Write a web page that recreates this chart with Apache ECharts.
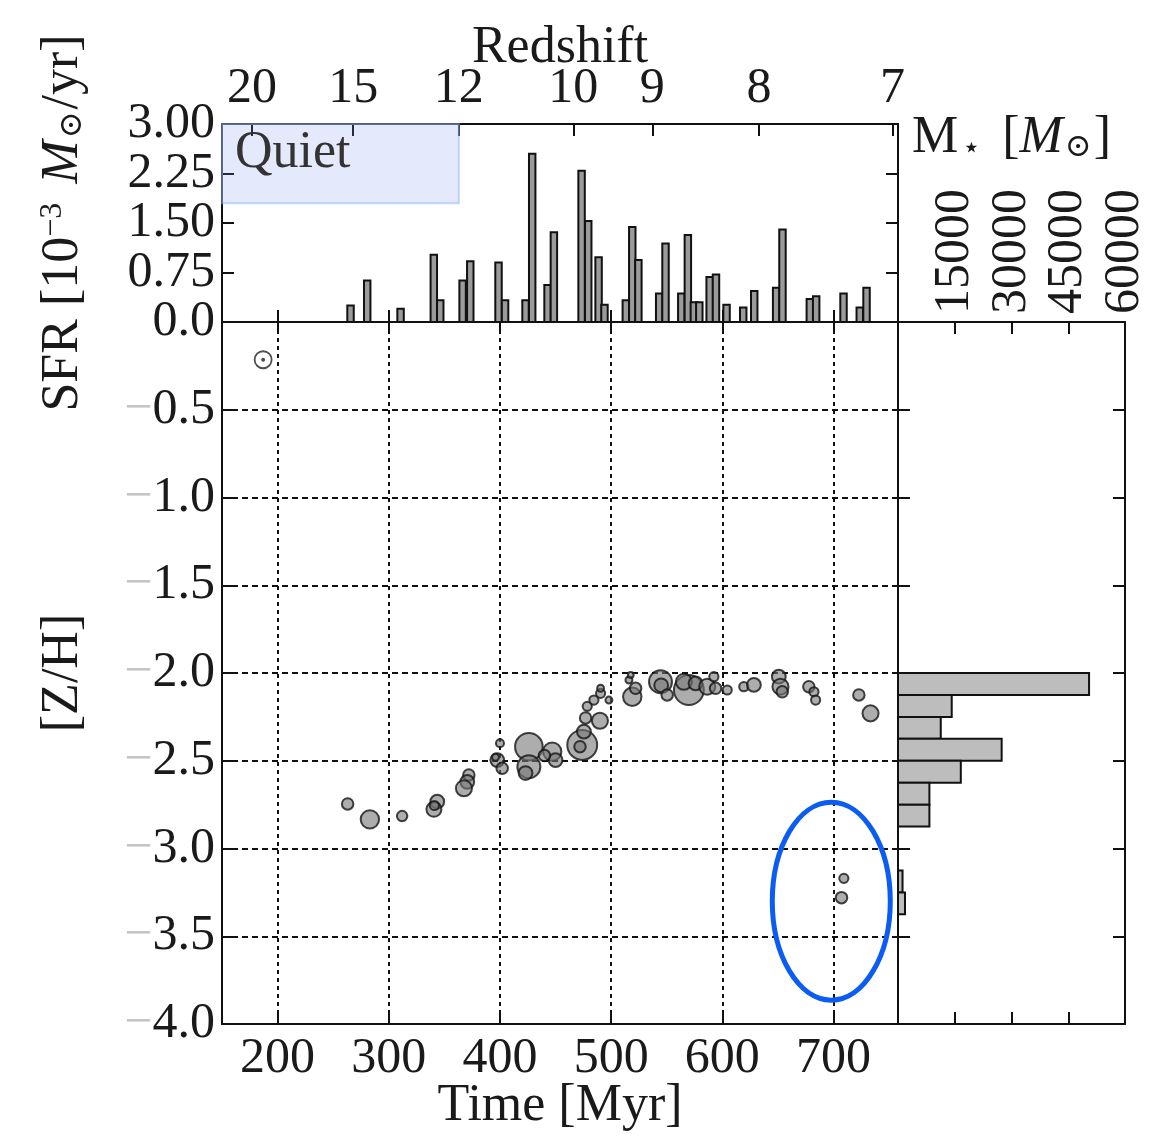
<!DOCTYPE html>
<html>
<head>
<meta charset="utf-8">
<script src="https://cdn.jsdelivr.net/npm/echarts@6/dist/echarts.min.js"></script>
<style>
html, body { margin: 0; padding: 0; background: #fff; }
#chart { width: 1163px; height: 1136px; }
</style>
</head>
<body>
<div id="chart"></div>
<script>
const FONT = '"Liberation Serif", "DejaVu Serif", serif';

// Cosmic time axis [Myr]
const timeRange = [150, 758];

// Redshift ticks on the upper axis and the cosmic time they fall at [Myr]
const redshiftLabels = ['20', '15', '12', '10', '9', '8', '7'];
const redshiftTimes = [177, 268, 363, 466, 537, 633, 753];

// SFR tick labels [1e-3 Msun/yr], split in two sets so none are dropped
const sfrTicksA = [1.5, 3.0];
const sfrTicksB = [0.75, 2.25];

// Star formation history: bin centres [Myr] and SFR [1e-3 Msun/yr]
const sfrTimes = [265.6, 280.6, 310.6, 340.5, 346.3, 366.4, 373.3, 398.7, 404.6, 423.0,
  429.0, 442.8, 448.5, 473.4, 479.4, 488.7, 494.0, 513.2, 519.0, 524.5,
  543.2, 548.9, 563.1, 569.0, 574.4, 579.3, 588.6, 594.3, 603.8, 618.8,
  628.7, 648.4, 654.1, 678.7, 684.4, 709.0, 723.6, 729.7];
const sfrValues = [0.25, 0.63, 0.20, 1.02, 0.33, 0.63, 0.92, 0.90, 0.33, 0.33,
  2.55, 0.56, 1.36, 2.29, 1.53, 0.98, 0.26, 0.33, 1.44, 0.94,
  0.43, 1.19, 0.43, 1.32, 0.30, 0.30, 0.68, 0.72, 0.26, 0.22,
  0.47, 0.52, 1.40, 0.35, 0.39, 0.43, 0.22, 0.52];
const sfrBinWidth = 5.8;

// Star particles: formation time [Myr], metallicity [Z/H], stellar mass [Msun]
const starTimes = [263, 283, 312, 343.6, 340.6, 341, 372, 370.6, 367.6, 400,
  397.6, 402, 396, 426, 426, 423, 447, 450, 440, 474,
  472, 475.5, 489.9, 477, 478.5, 484.5, 490.5, 490.5, 498, 519,
  522, 516, 517.6, 544.4, 545, 550.4, 569.9, 565.4, 575.9, 586.4,
  592.4, 593.9, 604.4, 619.3, 628.4, 650.8, 652.3, 653.9, 677.8, 682.4,
  683.9, 722.8, 733.3, 709.3, 707.2];
const starZH = [-2.746, -2.834, -2.815, -2.733, -2.777, -2.755, -2.581, -2.62, -2.657, -2.40,
  -2.496, -2.543, -2.48, -2.42, -2.534, -2.57, -2.448, -2.496, -2.47, -2.41,
  -2.42, -2.334, -2.272, -2.256, -2.19, -2.154, -2.116, -2.087, -2.154, -2.135,
  -2.087, -2.04, -2.011, -2.05, -2.07, -2.125, -2.097, -2.05, -2.059, -2.078,
  -2.021, -2.087, -2.097, -2.078, -2.068, -2.021, -2.078, -2.107, -2.078, -2.107,
  -2.154, -2.125, -2.23, -3.17, -3.28];
const starMass = [1500, 3840, 1220, 2160, 2540, 960, 1500, 2160, 2940, 740,
  2160, 1500, 540, 8640, 6000, 2160, 3840, 2160, 1500, 10140,
  1500, 2160, 2940, 1500, 960, 960, 960, 540, 540, 3840,
  1500, 540, 380, 6000, 2160, 1500, 10140, 2940, 2160, 2940,
  960, 1500, 960, 960, 2160, 2160, 2940, 1500, 1500, 960,
  960, 1500, 2940, 960, 1500];

// Stellar mass per metallicity bin: upper bin edge [Z/H] and mass [Msun]
const zhBinTop = [-2.0, -2.125, -2.25, -2.375, -2.5, -2.625, -2.75, -3.125, -3.25];
const zhBinMass = [50500, 14200, 11300, 27400, 16600, 8300, 8300, 1200, 1850];
const zhBinWidth = 0.125;

// Quiet period before z = 12
const quietPeriod = [150, 363];
const quietBand = [1.8, 3.0];

// Reference marker in the upper-left corner
const refMarker = [187, -0.215];

// Highlighted late, metal-poor stars
const highlightCentre = [698, -3.3];

const BLACK = '#111';
const tickStyle = { show: true, inside: true, length: 12, lineStyle: { color: BLACK, width: 2 } };
const lineStyle = { show: true, onZero: false, lineStyle: { color: BLACK, width: 2 } };
const noLabel = { show: false };
const labelFont = { fontFamily: FONT, fontSize: 50, color: '#1a1a1a' };
const nameFont = { fontFamily: FONT, fontSize: 52, color: '#1a1a1a' };

function massToDiameter(m) {
  return 2.3 * Math.sqrt(m / 60);
}

const chart = echarts.init(document.getElementById('chart'), null, { renderer: 'canvas' });

const gridBase = { containLabel: false, outerBoundsMode: 'none' };

const option = {
  backgroundColor: '#fff',
  animation: false,
  grid: [
    Object.assign({ left: 222, top: 124, width: 676, height: 198 }, gridBase),
    Object.assign({ left: 222, top: 322, width: 676, height: 702 }, gridBase),
    Object.assign({ left: 898, top: 322, width: 227, height: 702 }, gridBase)
  ],
  xAxis: [
    { // SFR panel, bottom
      type: 'value', gridIndex: 0, position: 'bottom', min: timeRange[0], max: timeRange[1],
      axisLine: lineStyle, axisTick: tickStyle, axisLabel: noLabel, splitLine: { show: false }
    },
    { // SFR panel, top: redshift
      type: 'value', gridIndex: 0, position: 'top', min: timeRange[0], max: timeRange[1],
      axisLine: lineStyle,
      axisTick: Object.assign({}, tickStyle, { customValues: redshiftTimes }),
      axisLabel: Object.assign({}, labelFont, {
        customValues: redshiftTimes, margin: 10, hideOverlap: false,
        formatter: v => redshiftLabels[redshiftTimes.indexOf(v)]
      }),
      splitLine: { show: false },
      name: 'Redshift', nameLocation: 'middle', nameGap: 50, nameMoveOverlap: false,
      nameTextStyle: nameFont
    },
    { // metallicity panel, bottom: time
      type: 'value', gridIndex: 1, position: 'bottom', min: timeRange[0], max: timeRange[1],
      axisLine: lineStyle, axisTick: tickStyle,
      axisLabel: Object.assign({}, labelFont, { margin: 10, showMinLabel: false, showMaxLabel: false }),
      splitLine: { show: true, showMinLine: false, showMaxLine: false,
        lineStyle: { color: BLACK, width: 2, type: [4, 4] } },
      name: 'Time [Myr]', nameLocation: 'middle', nameGap: 56, nameMoveOverlap: false,
      nameTextStyle: nameFont
    },
    { // metallicity panel, top
      type: 'value', gridIndex: 1, position: 'top', min: timeRange[0], max: timeRange[1],
      axisLine: lineStyle, axisTick: tickStyle, axisLabel: noLabel, splitLine: { show: false }
    },
    { // mass histogram, top
      type: 'value', gridIndex: 2, position: 'top', min: 0, max: 60000, interval: 15000,
      axisLine: lineStyle, axisTick: tickStyle,
      axisLabel: Object.assign({}, labelFont, {
        rotate: -90, margin: 8, showMinLabel: false, showMaxLabel: true, hideOverlap: false,
        formatter: v => String(v)
      }),
      splitLine: { show: false },
      name: 'M{sub|\u22c6} [{it|M}{sub2|\u2299}]', nameLocation: 'middle', nameGap: 158,
      nameTextStyle: Object.assign({}, nameFont, {
        rich: {
          sub: { fontFamily: FONT, fontSize: 30, verticalAlign: 'bottom', color: '#1a1a1a', padding: [0, 8, 0, 4] },
          sub2: { fontFamily: FONT, fontSize: 32, verticalAlign: 'bottom', color: '#1a1a1a', padding: [0, 2, 0, 2] },
          it: { fontFamily: FONT, fontSize: 52, fontStyle: 'italic', color: '#1a1a1a' }
        }
      })
    },
    { // mass histogram, bottom
      type: 'value', gridIndex: 2, position: 'bottom', min: 0, max: 60000, interval: 15000,
      axisLine: lineStyle, axisTick: tickStyle, axisLabel: noLabel, splitLine: { show: false }
    }
  ],
  yAxis: [
    { // SFR
      type: 'value', gridIndex: 0, position: 'left', min: 0, max: 3, interval: 0.75,
      axisLine: lineStyle, axisTick: tickStyle,
      axisLabel: Object.assign({}, labelFont, {
        customValues: sfrTicksA, margin: 7, hideOverlap: false,
        formatter: v => v.toFixed(2)
      }),
      splitLine: { show: false },
      name: 'SFR [10{sup|\u22123} {it|M}{sub|\u2299}/yr]', nameLocation: 'middle', nameGap: 133,
      nameMoveOverlap: false,
      nameTextStyle: Object.assign({}, nameFont, {
        rich: {
          sup: { fontFamily: FONT, fontSize: 32, verticalAlign: 'top', color: '#1a1a1a', padding: [0, 6, 0, 0] },
          sub: { fontFamily: FONT, fontSize: 32, verticalAlign: 'bottom', color: '#1a1a1a', padding: [0, 2, 0, 2] },
          it: { fontFamily: FONT, fontSize: 52, fontStyle: 'italic', color: '#1a1a1a' }
        }
      })
    },
    { // SFR, right side ticks
      type: 'value', gridIndex: 0, position: 'right', min: 0, max: 3, interval: 0.75,
      axisLine: lineStyle, axisTick: tickStyle, axisLabel: noLabel, splitLine: { show: false }
    },
    { // metallicity
      type: 'value', gridIndex: 1, position: 'left', min: -4, max: 0, interval: 0.5,
      axisLine: lineStyle, axisTick: tickStyle,
      axisLabel: Object.assign({}, labelFont, {
        margin: 7, showMinLabel: true, showMaxLabel: true, hideOverlap: false,
        formatter: v => v === 0 ? '0.0' : '{m|\u2212}' + Math.abs(v).toFixed(1),
        rich: { m: { fontFamily: FONT, fontSize: 50, color: '#c4c4c4' } }
      }),
      splitLine: { show: true, showMinLine: false, showMaxLine: false,
        lineStyle: { color: BLACK, width: 2, type: [6, 4] } },
      name: '[Z/H]', nameLocation: 'middle', nameGap: 133, nameMoveOverlap: false,
      nameTextStyle: nameFont
    },
    { // mass histogram, left
      type: 'value', gridIndex: 2, position: 'left', min: -4, max: 0, interval: 0.5,
      axisLine: lineStyle, axisTick: tickStyle, axisLabel: noLabel, splitLine: { show: false }
    },
    { // mass histogram, right
      type: 'value', gridIndex: 2, position: 'right', min: -4, max: 0, interval: 0.5,
      axisLine: lineStyle, axisTick: tickStyle, axisLabel: noLabel, splitLine: { show: false }
    },
    { // SFR, remaining tick labels
      type: 'value', gridIndex: 0, position: 'left', offset: 0, min: 0, max: 3, interval: 0.75,
      axisLine: { show: false }, axisTick: { show: false },
      axisLabel: Object.assign({}, labelFont, {
        customValues: sfrTicksB, margin: 7, hideOverlap: false,
        formatter: v => v.toFixed(2)
      }),
      splitLine: { show: false }
    }
  ],
  series: [
    {
      name: 'SFR',
      type: 'custom',
      xAxisIndex: 0, yAxisIndex: 0,
      data: sfrTimes.map((t, i) => [t, sfrValues[i]]),
      encode: { x: 0, y: 1 },
      renderItem: (params, api) => {
        const t = api.value(0), v = api.value(1);
        const p0 = api.coord([t - sfrBinWidth / 2, v]);
        const p1 = api.coord([t + sfrBinWidth / 2, 0]);
        return {
          type: 'rect',
          shape: { x: p0[0], y: p0[1], width: p1[0] - p0[0], height: p1[1] - p0[1] },
          style: { fill: '#9b9b9b', stroke: BLACK, lineWidth: 2 }
        };
      },
      markArea: {
        silent: true,
        itemStyle: { color: 'rgba(120,150,235,0.2)', borderColor: 'rgba(140,175,250,0.5)', borderWidth: 2 },
        label: {
          show: true, position: 'insideTopLeft', distance: 8, offset: [6, -4],
          fontFamily: FONT, fontSize: 52, color: '#333'
        },
        data: [[
          { name: 'Quiet', xAxis: quietPeriod[0], yAxis: quietBand[1] },
          { xAxis: quietPeriod[1], yAxis: quietBand[0] }
        ]]
      },
      z: 3
    },
    {
      name: 'Stars',
      type: 'scatter',
      xAxisIndex: 2, yAxisIndex: 2,
      data: starTimes.map((t, i) => [t, starZH[i], starMass[i]]),
      symbolSize: d => massToDiameter(d[2]),
      itemStyle: { color: 'rgba(118,118,118,0.75)', borderColor: '#151515', borderWidth: 2 },
      z: 4
    },
    {
      name: 'Reference ring',
      type: 'scatter',
      xAxisIndex: 2, yAxisIndex: 2,
      data: [refMarker],
      symbolSize: 17,
      itemStyle: { color: 'rgba(255,255,255,0)', borderColor: '#222', borderWidth: 1.8 },
      z: 4
    },
    {
      name: 'Reference dot',
      type: 'scatter',
      xAxisIndex: 2, yAxisIndex: 2,
      data: [refMarker],
      symbolSize: 4,
      itemStyle: { color: '#222' },
      z: 5
    },
    {
      name: 'Mass per [Z/H]',
      type: 'custom',
      xAxisIndex: 4, yAxisIndex: 3,
      data: zhBinMass.map((m, i) => [m, zhBinTop[i]]),
      encode: { x: 0, y: 1 },
      renderItem: (params, api) => {
        const m = api.value(0), top = api.value(1);
        const p0 = api.coord([0, top]);
        const p1 = api.coord([m, top - zhBinWidth]);
        return {
          type: 'rect',
          shape: { x: p0[0], y: p0[1], width: p1[0] - p0[0], height: p1[1] - p0[1] },
          style: { fill: '#bdbdbd', stroke: BLACK, lineWidth: 2 }
        };
      },
      z: 3
    }
  ]
};

chart.setOption(option);

// Ellipse around the late, metal-poor stars
const c = chart.convertToPixel({ xAxisIndex: 2, yAxisIndex: 2 }, highlightCentre);
chart.setOption({
  graphic: [{
    type: 'ellipse',
    shape: { cx: c[0], cy: c[1], rx: 59, ry: 99 },
    style: { fill: 'none', stroke: '#0a5cf5', lineWidth: 5 },
    z: 10
  }]
});
</script>
</body>
</html>
